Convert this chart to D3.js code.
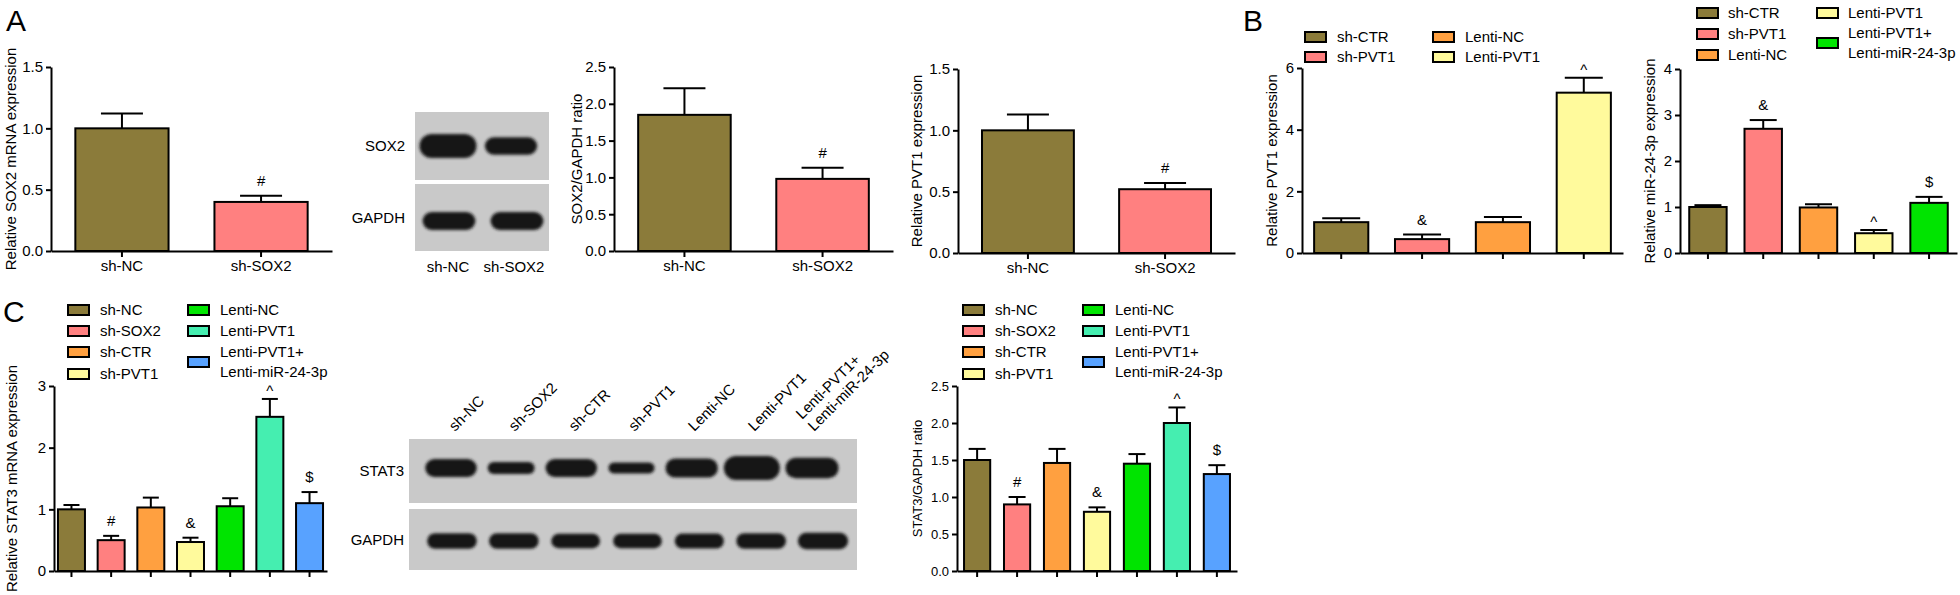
<!DOCTYPE html>
<html>
<head>
<meta charset="utf-8">
<script src="https://cdn.jsdelivr.net/npm/d3@7"></script>
<style>
  body { margin: 0; background: #fff; }
  svg { display: block; font-family: Arial, "Liberation Sans", sans-serif; }
</style>
</head>
<body>
<svg id="fig" width="1960" height="595"></svg>
<script>
// ---- data ----
const aGroups = ["sh-NC", "sh-SOX2"];
const sox2mRNA = [1.0, 0.40];
const sox2mRNAErr = [0.12, 0.05];
const sox2Ratio = [1.85, 0.98];
const sox2RatioErr = [0.36, 0.15];
const pvt1A = [1.0, 0.52];
const pvt1AErr = [0.13, 0.05];
const aMarks = ["", "#"];

const bGroups = ["sh-CTR", "sh-PVT1", "Lenti-NC", "Lenti-PVT1"];
const pvt1B = [1.0, 0.45, 1.0, 5.2];
const pvt1BErr = [0.13, 0.15, 0.17, 0.48];
const pvt1BMarks = ["", "&", "", "^"];

const mirGroups = ["sh-CTR", "sh-PVT1", "Lenti-NC", "Lenti-PVT1", "Lenti-PVT1+\nLenti-miR-24-3p"];
const mir243p = [1.0, 2.7, 0.99, 0.43, 1.09];
const mir243pErr = [0.04, 0.19, 0.07, 0.07, 0.13];
const mirMarks = ["", "&", "", "^", "$"];

const cGroups = ["sh-NC", "sh-SOX2", "sh-CTR", "sh-PVT1", "Lenti-NC", "Lenti-PVT1", "Lenti-PVT1+\nLenti-miR-24-3p"];
const stat3mRNA = [1.0, 0.5, 1.03, 0.47, 1.05, 2.5, 1.1];
const stat3mRNAErr = [0.07, 0.07, 0.16, 0.07, 0.13, 0.29, 0.18];
const stat3Ratio = [1.5, 0.9, 1.46, 0.8, 1.45, 2.0, 1.31];
const stat3RatioErr = [0.15, 0.1, 0.19, 0.06, 0.13, 0.21, 0.12];
const cMarks = ["", "#", "", "&", "", "^", "$"];

// relative band strength on the blots (0-1)
const sox2Bands = [1.0, 0.72];
const gapdhBandsA = [0.75, 0.75];
const stat3Bands = [0.75, 0.5, 0.75, 0.45, 0.8, 1.0, 0.85];
const gapdhBandsC = [0.65, 0.65, 0.6, 0.6, 0.62, 0.65, 0.68];

const palette = ["#8b7b3a", "#ff8080", "#ffa040", "#fffa9c", "#00e400", "#45eeb0", "#58a2ff"];

const svg = d3.select("#fig");

svg.append("defs").append("filter").attr("id", "blur")
  .attr("x", "-20%").attr("y", "-60%").attr("width", "140%").attr("height", "220%")
  .append("feGaussianBlur").attr("stdDeviation", 1.8);

function barChart(o) {
  const g = svg.append("g");
  const fs = o.fs || 15;
  const y = d3.scaleLinear().domain([0, o.yMax]).range([o.bottom, o.top]);
  const x = d3.scaleBand().domain(o.groups).range([o.left, o.right])
    .paddingInner(o.pi).paddingOuter(o.po);
  const color = d3.scaleOrdinal(o.groups, palette);
  const rows = o.values.map((v, i) => ({ g: o.groups[i], v: v, e: o.err[i], m: o.marks[i] }));

  // error bars
  const eb = g.selectAll(".eb").data(rows).join("g");
  eb.append("line")
    .attr("x1", d => x(d.g) + x.bandwidth() / 2).attr("x2", d => x(d.g) + x.bandwidth() / 2)
    .attr("y1", d => y(d.v)).attr("y2", d => y(d.v + d.e))
    .attr("stroke", "#000").attr("stroke-width", 2);
  eb.append("line")
    .attr("x1", d => x(d.g) + x.bandwidth() / 2 - o.cap / 2)
    .attr("x2", d => x(d.g) + x.bandwidth() / 2 + o.cap / 2)
    .attr("y1", d => y(d.v + d.e)).attr("y2", d => y(d.v + d.e))
    .attr("stroke", "#000").attr("stroke-width", 2);

  // bars
  g.selectAll(".bar").data(rows).join("rect")
    .attr("x", d => x(d.g)).attr("y", d => y(d.v))
    .attr("width", x.bandwidth()).attr("height", d => y(0) - y(d.v))
    .attr("fill", d => color(d.g)).attr("stroke", "#000").attr("stroke-width", 2);

  // significance marks ("^" sits high in its glyph box, so it goes lower)
  g.selectAll(".mark").data(rows.filter(d => d.m)).join("text")
    .attr("x", d => x(d.g) + x.bandwidth() / 2)
    .attr("y", d => y(d.v + d.e) - (d.m === "^" ? 3 : 10))
    .attr("text-anchor", "middle").attr("font-size", 15).text(d => d.m);

  // axes
  const ya = g.append("g").attr("transform", `translate(${o.left},0)`)
    .call(d3.axisLeft(y).tickValues(o.ticks).tickFormat(o.fmt).tickSize(5).tickSizeOuter(0).tickPadding(3));
  const xa = g.append("g").attr("transform", `translate(0,${o.bottom})`)
    .call(d3.axisBottom(x).tickSize(6).tickSizeOuter(0).tickPadding(3)
      .tickFormat(o.xLabels ? (d => d) : ""));
  [ya, xa].forEach(a => {
    a.attr("font-family", null).attr("font-size", fs);
    a.selectAll("path, line").attr("stroke", "#000").attr("stroke-width", 2);
    a.selectAll("text").attr("fill", "#000");
  });

  g.append("text")
    .attr("transform", `translate(${o.left - o.yl},${(o.top + o.bottom) / 2}) rotate(-90)`)
    .attr("text-anchor", "middle").attr("font-size", o.ylfs || fs).text(o.ylabel);
}

function legend(groups, cols) {
  const g = svg.append("g").attr("font-size", 15);
  cols.forEach(c => {
    c.rows.forEach(([idx, cy]) => {
      g.append("rect").attr("x", c.sx).attr("y", cy - 5).attr("width", 21).attr("height", 10)
        .attr("fill", palette[idx]).attr("stroke", "#000").attr("stroke-width", 2);
      const lines = groups[idx].split("\n");
      const t = g.append("text").attr("x", c.tx);
      lines.forEach((ln, k) => {
        const off = lines.length === 1 ? 0 : (k === 0 ? -10 : 10);
        t.append("tspan").attr("x", c.tx).attr("y", cy + off + 5).text(ln);
      });
    });
  });
}

function blot(o) {
  const g = svg.append("g");
  const h = d3.scaleLinear().domain([0, 1]).range([0, o.maxH]);
  const w = d3.scaleLinear().domain([0, 1]).range(o.wRange);
  o.rows.forEach(r => {
    g.append("rect").attr("x", o.x0).attr("y", r.y0).attr("width", o.x1 - o.x0).attr("height", r.y1 - r.y0)
      .attr("fill", "#c9c9c9");
    g.append("text").attr("x", o.labelX).attr("y", (r.y0 + r.y1) / 2 + 5)
      .attr("text-anchor", "end").attr("font-size", 15).text(r.label);
    const lane = d3.scalePoint().domain(d3.range(r.bands.length)).range(r.lanes);
    g.append("g").attr("filter", "url(#blur)")
      .selectAll("rect").data(r.bands).join("rect")
      .attr("x", (d, i) => lane(i) - w(d) / 2).attr("width", d => w(d))
      .attr("y", d => r.cy - h(d) / 2).attr("height", d => h(d))
      .attr("rx", d => h(d) / 2).attr("fill", "#121212");
  });
  return g;
}

// ---- panel letters ----
svg.append("text").attr("x", 6).attr("y", 31).attr("font-size", 30).text("A");
svg.append("text").attr("x", 1243).attr("y", 31).attr("font-size", 30).text("B");
svg.append("text").attr("x", 3).attr("y", 322).attr("font-size", 30).text("C");

// ---- panel A ----
barChart({ groups: aGroups, values: sox2mRNA, err: sox2mRNAErr, marks: aMarks,
  left: 51, right: 332, top: 67, bottom: 251, yMax: 1.5, ticks: [0, 0.5, 1, 1.5], fmt: d3.format(".1f"),
  pi: 0.33, po: 0.175, cap: 42, xLabels: true, yl: 35, ylabel: "Relative SOX2 mRNA expression" });

blot({ x0: 415, x1: 549, labelX: 405, maxH: 24, wRange: [40, 57],
  rows: [
    { label: "SOX2", y0: 112, y1: 180, cy: 146, lanes: [448, 511], bands: sox2Bands },
    { label: "GAPDH", y0: 184, y1: 251, cy: 221, lanes: [449, 517], bands: gapdhBandsA }
  ] });
svg.append("g").attr("font-size", 15).attr("text-anchor", "middle")
  .selectAll("text").data(aGroups).join("text")
  .attr("x", d => d3.scalePoint().domain(aGroups).range([448, 514])(d)).attr("y", 272).text(d => d);

barChart({ groups: aGroups, values: sox2Ratio, err: sox2RatioErr, marks: aMarks,
  left: 614, right: 893, top: 67, bottom: 251, yMax: 2.5, ticks: [0, 0.5, 1, 1.5, 2, 2.5], fmt: d3.format(".1f"),
  pi: 0.33, po: 0.175, cap: 42, xLabels: true, yl: 32, ylabel: "SOX2/GAPDH ratio" });

barChart({ groups: aGroups, values: pvt1A, err: pvt1AErr, marks: aMarks,
  left: 958, right: 1235, top: 69, bottom: 253, yMax: 1.5, ticks: [0, 0.5, 1, 1.5], fmt: d3.format(".1f"),
  pi: 0.33, po: 0.175, cap: 42, xLabels: true, yl: 36, ylabel: "Relative PVT1 expression" });

// ---- panel B ----
barChart({ groups: bGroups, values: pvt1B, err: pvt1BErr, marks: pvt1BMarks,
  left: 1302, right: 1623, top: 68, bottom: 253, yMax: 6, ticks: [0, 2, 4, 6], fmt: d3.format("d"),
  pi: 0.33, po: 0.15, cap: 38, xLabels: false, yl: 25, ylabel: "Relative PVT1 expression" });
legend(bGroups, [
  { sx: 1305, tx: 1337, rows: [[0, 37], [1, 57]] },
  { sx: 1433, tx: 1465, rows: [[2, 37], [3, 57]] }
]);

barChart({ groups: mirGroups, values: mir243p, err: mir243pErr, marks: mirMarks,
  left: 1680, right: 1957, top: 69, bottom: 253, yMax: 4, ticks: [0, 1, 2, 3, 4], fmt: d3.format("d"),
  pi: 0.323, po: 0.167, cap: 27, xLabels: false, yl: 25, ylabel: "Relative miR-24-3p expression" });
legend(mirGroups, [
  { sx: 1697, tx: 1728, rows: [[0, 13], [1, 34], [2, 55]] },
  { sx: 1817, tx: 1848, rows: [[3, 13], [4, 43]] }
]);

// ---- panel C ----
barChart({ groups: cGroups, values: stat3mRNA, err: stat3mRNAErr, marks: cMarks,
  left: 54, right: 327, top: 386, bottom: 571, yMax: 3, ticks: [0, 1, 2, 3], fmt: d3.format("d"),
  pi: 0.32, po: 0.1, cap: 16, xLabels: false, yl: 37, ylabel: "Relative STAT3 mRNA expression" });
legend(cGroups, [
  { sx: 68, tx: 100, rows: [[0, 310], [1, 331], [2, 352], [3, 374]] },
  { sx: 188, tx: 220, rows: [[4, 310], [5, 331], [6, 362]] }
]);

blot({ x0: 409, x1: 857, labelX: 404, maxH: 24, wRange: [38, 56],
  rows: [
    { label: "STAT3", y0: 439, y1: 503, cy: 468, lanes: [451, 812], bands: stat3Bands },
    { label: "GAPDH", y0: 509, y1: 570, cy: 541, lanes: [452, 823], bands: gapdhBandsC }
  ] });
const cLane = d3.scalePoint().domain(cGroups).range([453, 812]);
svg.append("g").attr("font-size", 15)
  .selectAll("text").data(cGroups).join("text")
  .attr("transform", d => `translate(${cLane(d) + 2},432) rotate(-45)`)
  .each(function (d) {
    const lines = d.split("\n");
    lines.forEach((ln, k) => {
      d3.select(this).append("tspan").attr("x", 0)
        .attr("y", (k - lines.length + 1) * 17).text(ln);
    });
  });

barChart({ groups: cGroups, values: stat3Ratio, err: stat3RatioErr, marks: cMarks,
  left: 957, right: 1237, top: 386, bottom: 571, yMax: 2.5, ticks: [0, 0.5, 1, 1.5, 2, 2.5], fmt: d3.format(".1f"),
  pi: 0.345, po: 0.176, cap: 17, xLabels: false, yl: 35, fs: 13, ylabel: "STAT3/GAPDH ratio" });
legend(cGroups, [
  { sx: 963, tx: 995, rows: [[0, 310], [1, 331], [2, 352], [3, 374]] },
  { sx: 1083, tx: 1115, rows: [[4, 310], [5, 331], [6, 362]] }
]);
</script>
</body>
</html>
